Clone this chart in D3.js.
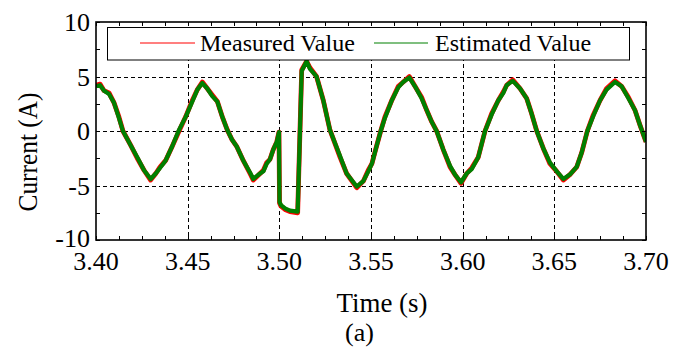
<!DOCTYPE html>
<html>
<head>
<meta charset="utf-8">
<script src="https://cdn.jsdelivr.net/npm/d3@7/dist/d3.min.js"></script>
<style>
  html, body { margin: 0; padding: 0; background: #fff; }
  svg { display: block; }
  text { font-family: "Liberation Serif", "Times New Roman", Times, serif; fill: #000; }
</style>
</head>
<body>
<svg id="chart" width="688" height="352"></svg>
<script>
// Phase current around the 3.50 s disturbance (time in s, current in A)
const time = [
  3.4000, 3.4022, 3.4044, 3.4071, 3.4098, 3.4125, 3.4147, 3.4189, 3.4225, 3.4262,
  3.4298, 3.4326, 3.4349, 3.4380, 3.4416, 3.4453, 3.4489, 3.4525, 3.4553, 3.4580,
  3.4607, 3.4634, 3.4662, 3.4689, 3.4716, 3.4742, 3.4767, 3.4803, 3.4840, 3.4858,
  3.4895, 3.4913, 3.4931, 3.4949, 3.4967, 3.4986, 3.4998, 3.5001, 3.5009, 3.5031,
  3.5058, 3.5100, 3.5122, 3.5149, 3.5167, 3.5203, 3.5240, 3.5276, 3.5331, 3.5367,
  3.5422, 3.5458, 3.5485, 3.5505, 3.5527, 3.5553, 3.5576, 3.5613, 3.5649, 3.5676,
  3.5709, 3.5740, 3.5776, 3.5804, 3.5831, 3.5858, 3.5894, 3.5931, 3.5958, 3.5991,
  3.6022, 3.6049, 3.6085, 3.6122, 3.6158, 3.6194, 3.6222, 3.6240, 3.6273, 3.6313,
  3.6349, 3.6376, 3.6404, 3.6440, 3.6476, 3.6513, 3.6549, 3.6585, 3.6622, 3.6649,
  3.6680, 3.6713, 3.6749, 3.6785, 3.6831, 3.6867, 3.6904, 3.6940, 3.6967, 3.7000
];

const measured = [
   4.2,  4.3,  3.7,  3.5,  2.6,  1.3,  0.0, -1.3, -2.5, -3.6,
  -4.5, -3.9, -3.3, -2.7, -1.4,  0.0,  1.3,  2.8,  3.8,  4.5,
   3.9,  3.3,  2.7,  1.3,  0.1, -0.8, -1.4, -2.7, -3.9, -4.5,
  -3.9, -3.6, -2.9, -2.6, -1.7, -1.0, -0.1, -6.6, -6.9, -7.2,
  -7.4, -7.5,  5.6,  6.4,  5.8,  5.0,  2.8,  0.1, -2.4, -3.9,
  -5.2, -4.6, -3.6, -3.0, -1.6,  0.0,  1.3,  2.8,  4.1,  4.5,
   5.0,  4.1,  3.1,  1.9, 0.85,  0.0, -1.7, -3.3, -4.0, -4.8,
  -3.9, -3.4, -2.4,  0.0,  1.6,  2.8,  3.6,  4.2,  4.7,  3.9,
   3.0,  1.6,  0.0, -1.6, -3.0, -3.7, -4.5, -4.0, -3.3, -2.0,
   0.0,  1.5,  2.8,  3.9,  4.6,  4.1,  3.1,  1.9, 0.55, -1.0
];

const estimated = [
   4.1,  4.2,  3.7,  3.4,  2.6,  1.2,  0.0, -1.3, -2.4, -3.6,
  -4.4, -3.9, -3.4, -2.7, -1.4,  0.1,  1.3,  2.7,  3.8,  4.4,
   3.9,  3.2,  2.7,  1.3,  0.1, -0.8, -1.4, -2.7, -3.8, -4.4,
  -3.9, -3.7, -3.0, -2.6, -1.7, -1.0, -0.1, -6.5, -6.8, -7.1,
  -7.3, -7.4,  5.5,  6.4,  5.7,  5.0,  2.8,  0.1, -2.3, -3.9,
  -5.1, -4.6, -3.7, -3.0, -1.6,  0.0,  1.2,  2.8,  4.0,  4.5,
   4.9,  4.1,  3.0,  1.9, 0.85,  0.0, -1.7, -3.2, -4.0, -4.7,
  -3.9, -3.5, -2.4,  0.0,  1.5,  2.8,  3.5,  4.2,  4.6,  3.9,
   3.0,  1.6,  0.0, -1.6, -2.9, -3.7, -4.4, -4.0, -3.3, -2.0,
   0.0,  1.4,  2.8,  3.8,  4.5,  4.1,  3.0,  1.9, 0.55, -1.0
];

const xTickValues = [3.40, 3.45, 3.50, 3.55, 3.60, 3.65, 3.70];
const xTickLabels = ["3.40", "3.45", "3.50", "3.55", "3.60", "3.65", "3.70"];
const yTickValues = [-10, -5, 0, 5, 10];
const yTickLabels = ["-10", "-5", "0", "5", "10"];
const seriesNames = ["Measured Value", "Estimated Value"];
const seriesColors = ["#ff0000", "#008000"];

const svg = d3.select("#chart");
const plot = { left: 96, right: 646, top: 22, bottom: 240 };

const x = d3.scaleLinear().domain([3.40, 3.70]).range([plot.left, plot.right]);
const y = d3.scaleLinear().domain([-10, 10]).range([plot.bottom, plot.top]);

svg.append("rect").attr("width", 688).attr("height", 352).attr("fill", "#fff");

// dashed grid at the inner major ticks
const grid = svg.append("g").attr("stroke", "#000").attr("stroke-width", 1)
  .attr("stroke-dasharray", "4,3").attr("shape-rendering", "crispEdges");
grid.selectAll("line.vx").data(xTickValues.slice(1, -1)).join("line")
  .attr("x1", d => Math.round(x(d)) + 0.5).attr("x2", d => Math.round(x(d)) + 0.5)
  .attr("y1", plot.top).attr("y2", plot.bottom);
grid.selectAll("line.hy").data(yTickValues.slice(1, -1)).join("line")
  .attr("y1", d => Math.round(y(d)) + 0.5).attr("y2", d => Math.round(y(d)) + 0.5)
  .attr("x1", plot.left).attr("x2", plot.right);

// traces
svg.append("clipPath").attr("id", "clip").append("rect")
  .attr("x", plot.left).attr("y", plot.top)
  .attr("width", plot.right - plot.left).attr("height", plot.bottom - plot.top);

const line = d3.line().x(d => x(d[0])).y(d => y(d[1]));
const traces = svg.append("g").attr("clip-path", "url(#clip)").attr("fill", "none")
  .attr("stroke-linejoin", "round");
traces.append("path")
  .attr("d", line(time.map((t, i) => [t, measured[i]])))
  .attr("stroke", seriesColors[0]).attr("stroke-width", 4.8);
traces.append("path")
  .attr("d", line(time.map((t, i) => [t, estimated[i]])))
  .attr("stroke", seriesColors[1]).attr("stroke-width", 4.2);

// axes with inward ticks on all four sides
const tickLen = 4;
const xMinor = d3.range(0, 25).map(i => 3.40 + i * 0.0125);
const yMinor = d3.range(0, 9).map(i => -10 + i * 2.5);
const tk = svg.append("g").attr("stroke", "#000").attr("stroke-width", 1).attr("shape-rendering", "crispEdges");
tk.selectAll("line.xb").data(xMinor).join("line")
  .attr("x1", d => Math.round(x(d)) + 0.5).attr("x2", d => Math.round(x(d)) + 0.5)
  .attr("y1", plot.bottom).attr("y2", plot.bottom - tickLen);
tk.selectAll("line.xt").data(xMinor).join("line")
  .attr("x1", d => Math.round(x(d)) + 0.5).attr("x2", d => Math.round(x(d)) + 0.5)
  .attr("y1", plot.top).attr("y2", plot.top + tickLen);
tk.selectAll("line.yl").data(yMinor).join("line")
  .attr("y1", d => Math.round(y(d)) + 0.5).attr("y2", d => Math.round(y(d)) + 0.5)
  .attr("x1", plot.left).attr("x2", plot.left + tickLen);
tk.selectAll("line.yr").data(yMinor).join("line")
  .attr("y1", d => Math.round(y(d)) + 0.5).attr("y2", d => Math.round(y(d)) + 0.5)
  .attr("x1", plot.right).attr("x2", plot.right - tickLen);

svg.append("rect")
  .attr("x", plot.left).attr("y", plot.top)
  .attr("width", plot.right - plot.left).attr("height", plot.bottom - plot.top)
  .attr("fill", "none").attr("stroke", "#000").attr("stroke-width", 1.6);

// tick labels
svg.append("g").selectAll("text").data(xTickValues).join("text")
  .attr("x", d => x(d)).attr("y", 270)
  .attr("text-anchor", "middle").attr("font-size", 26)
  .text((d, i) => xTickLabels[i]);
svg.append("g").selectAll("text").data(yTickValues).join("text")
  .attr("x", 90).attr("y", d => y(d) - (d === -10 ? 2 : 0)).attr("dy", "0.35em")
  .attr("text-anchor", "end").attr("font-size", 26)
  .text((d, i) => yTickLabels[i]);

// axis titles
svg.append("text").attr("x", 382).attr("y", 312)
  .attr("text-anchor", "middle").attr("font-size", 27)
  .attr("textLength", 91).attr("lengthAdjust", "spacingAndGlyphs")
  .text("Time (s)");
svg.append("text").attr("x", 359.5).attr("y", 341)
  .attr("text-anchor", "middle").attr("font-size", 26)
  .text("(a)");
svg.append("text")
  .attr("transform", "translate(37,152) rotate(-90)")
  .attr("text-anchor", "middle").attr("font-size", 28)
  .attr("textLength", 119).attr("lengthAdjust", "spacingAndGlyphs")
  .text("Current (A)");

// legend
const lg = svg.append("g");
lg.append("rect").attr("x", 107.5).attr("y", 27.5).attr("width", 522).attr("height", 32.5)
  .attr("fill", "#fff").attr("stroke", "#000").attr("stroke-width", 1);
const legendItems = [
  { x1: 140, x2: 195, tx: 200 },
  { x1: 374, x2: 428, tx: 435 }
];
legendItems.forEach((it, i) => {
  lg.append("line").attr("x1", it.x1).attr("x2", it.x2).attr("y1", 43).attr("y2", 43)
    .attr("stroke", seriesColors[i]).attr("stroke-width", 1.2);
  lg.append("text").attr("x", it.tx).attr("y", 51).attr("font-size", 24).text(seriesNames[i]);
});
</script>
</body>
</html>
